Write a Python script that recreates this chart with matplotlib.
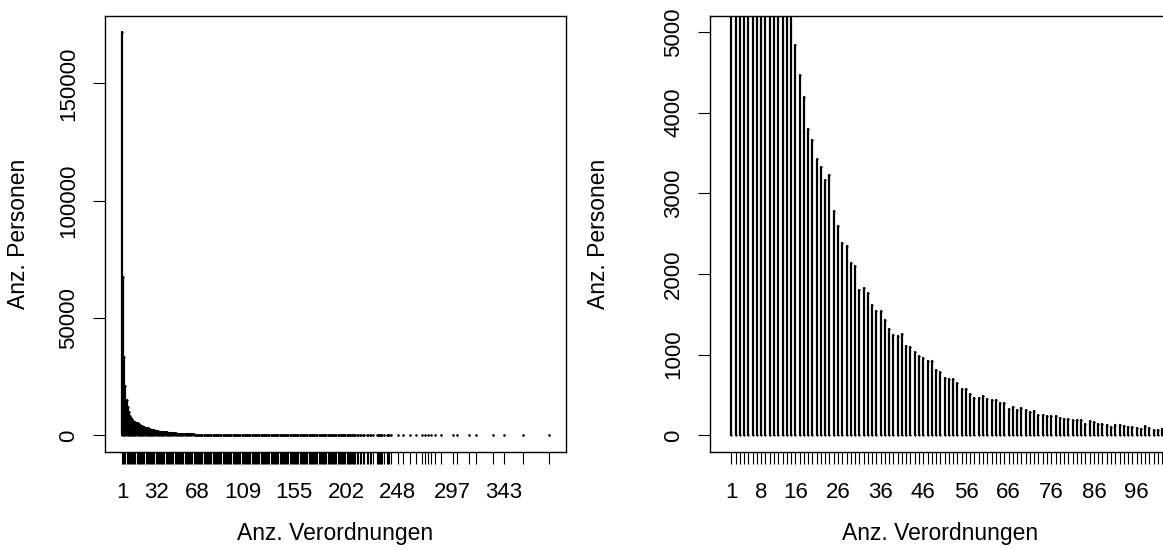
import matplotlib
matplotlib.use("Agg")
import matplotlib.pyplot as plt

plt.rcParams["font.family"] = ["Liberation Sans", "DejaVu Sans"]

# Anz. Personen je Anz. Verordnungen (1..102)
head_counts = [
    172000, 67500, 33500, 21000, 15000, 12000, 9800, 8300, 7400, 6800,
    6300, 5900, 5600, 5400, 5250, 4840, 4460, 4190, 3800, 3660,
    3425, 3330, 3170, 3230, 2775, 2600, 2385, 2350, 2130, 2095,
    1800, 1820, 1765, 1610, 1545, 1535, 1425, 1320, 1245, 1225,
    1255, 1105, 1100, 1035, 980, 960, 920, 920, 810, 780,
    710, 695, 695, 645, 580, 570, 515, 465, 465, 485,
    445, 440, 438, 395, 405, 330, 355, 310, 340, 310,
    295, 305, 258, 257, 245, 244, 235, 220, 205, 203,
    192, 191, 190, 145, 182, 165, 137, 135, 129, 108,
    124, 123, 116, 104, 104, 92, 83, 112, 95, 71,
    71, 79,
]
# 103..212
mid_counts = [
    66, 72, 61, 58, 63, 55, 52, 57,
    49, 51, 46, 44, 47, 41, 39, 42, 37, 36,
    34, 37, 31, 30, 32, 28, 27, 29, 25, 24,
    23, 25, 21, 20, 22, 19, 18, 20, 17, 16,
    16, 17, 14, 14, 15, 13, 12, 13, 11, 11,
    10, 11, 10, 9, 10, 8, 8, 9, 7, 7,
    7, 8, 6, 6, 7, 5, 5, 6, 5, 4,
    5, 4, 4, 5, 4, 3, 4, 3, 3, 4,
    3, 3, 2, 3, 3, 2, 2, 3, 2, 2,
    2, 3, 2, 2, 1, 2, 2, 1, 2, 2,
    1, 2, 1, 1, 2, 1, 1, 1, 2, 1, 1, 1,
]
# seltene Werte
tail_x = [214, 215, 217, 218, 220, 221, 223, 224, 226, 229, 230, 231, 232,
          233, 234, 236, 238, 239, 240, 242, 248, 253, 259, 264, 270, 272,
          275, 278, 281, 287, 297, 301, 312, 318, 333, 343, 360, 383]
tail_counts = [2, 1, 1, 1, 1, 2, 1, 1, 1, 1, 1, 2, 1,
               1, 1, 1, 1, 1, 1, 1, 1, 1, 1, 1, 1, 1,
               1, 1, 1, 1, 1, 1, 1, 1, 1, 1, 1, 1]

x_vals = list(range(1, 213)) + tail_x
y_vals = head_counts + mid_counts + tail_counts

left_labels = [1, 32, 68, 109, 155, 202, 248, 297, 343]
right_labels = [1, 8, 16, 26, 36, 46, 56, 66, 76, 86, 96]

W, H = 1163, 550
fig = plt.figure(figsize=(W / 100, H / 100), dpi=100)
ax1 = fig.add_axes([105 / W, (H - 451.5) / H, 460.7 / W, 435.8 / H])
ax2 = fig.add_axes([710 / W, (H - 451.5) / H, 460.7 / W, 435.8 / H])

LW = 1.6


def zeichne(ax, xlim, ylim, yticks, labels, ylab_x):
    # type="h" mit runden Linienenden wie in R
    ax.vlines(x_vals, 0, y_vals, colors="black", lw=LW, capstyle="round")
    ax.plot(x_vals, y_vals, "o", ms=LW, mew=0, color="black")
    ax.plot(x_vals, [0] * len(x_vals), "o", ms=LW, mew=0, color="black")
    ax.set_xlim(xlim)
    ax.set_ylim(ylim)
    shown = [v for v in x_vals if xlim[0] <= v <= xlim[1]]
    ax.set_xticks(shown)
    ax.set_xticklabels([str(v) if v in labels else "" for v in shown])
    ax.set_yticks(yticks)
    ax.set_yticklabels([str(t) for t in yticks], rotation=90, va="center")
    ax.tick_params(length=8.5, width=0.8, labelsize=16)
    ax.tick_params(axis="x", pad=13.5)
    ax.tick_params(axis="y", pad=10)
    for s in ax.spines.values():
        s.set_linewidth(1.0)
    ax.set_xlabel("Anz. Verordnungen", fontsize=16.5)
    ax.set_ylabel("Anz. Personen", fontsize=16.5)
    ax.xaxis.set_label_coords(0.5, -0.1625)
    ax.yaxis.set_label_coords(ylab_x, 0.5)


zeichne(ax1, (1 - 0.04 * 382, 383 + 0.04 * 382), (-6880, 178880),
        [0, 50000, 100000, 150000], left_labels, -0.162)
zeichne(ax2, (-4, 104), (-200, 5200),
        [0, 1000, 2000, 3000, 4000, 5000], right_labels, -0.218)

fig.savefig("out.png", dpi=100)
